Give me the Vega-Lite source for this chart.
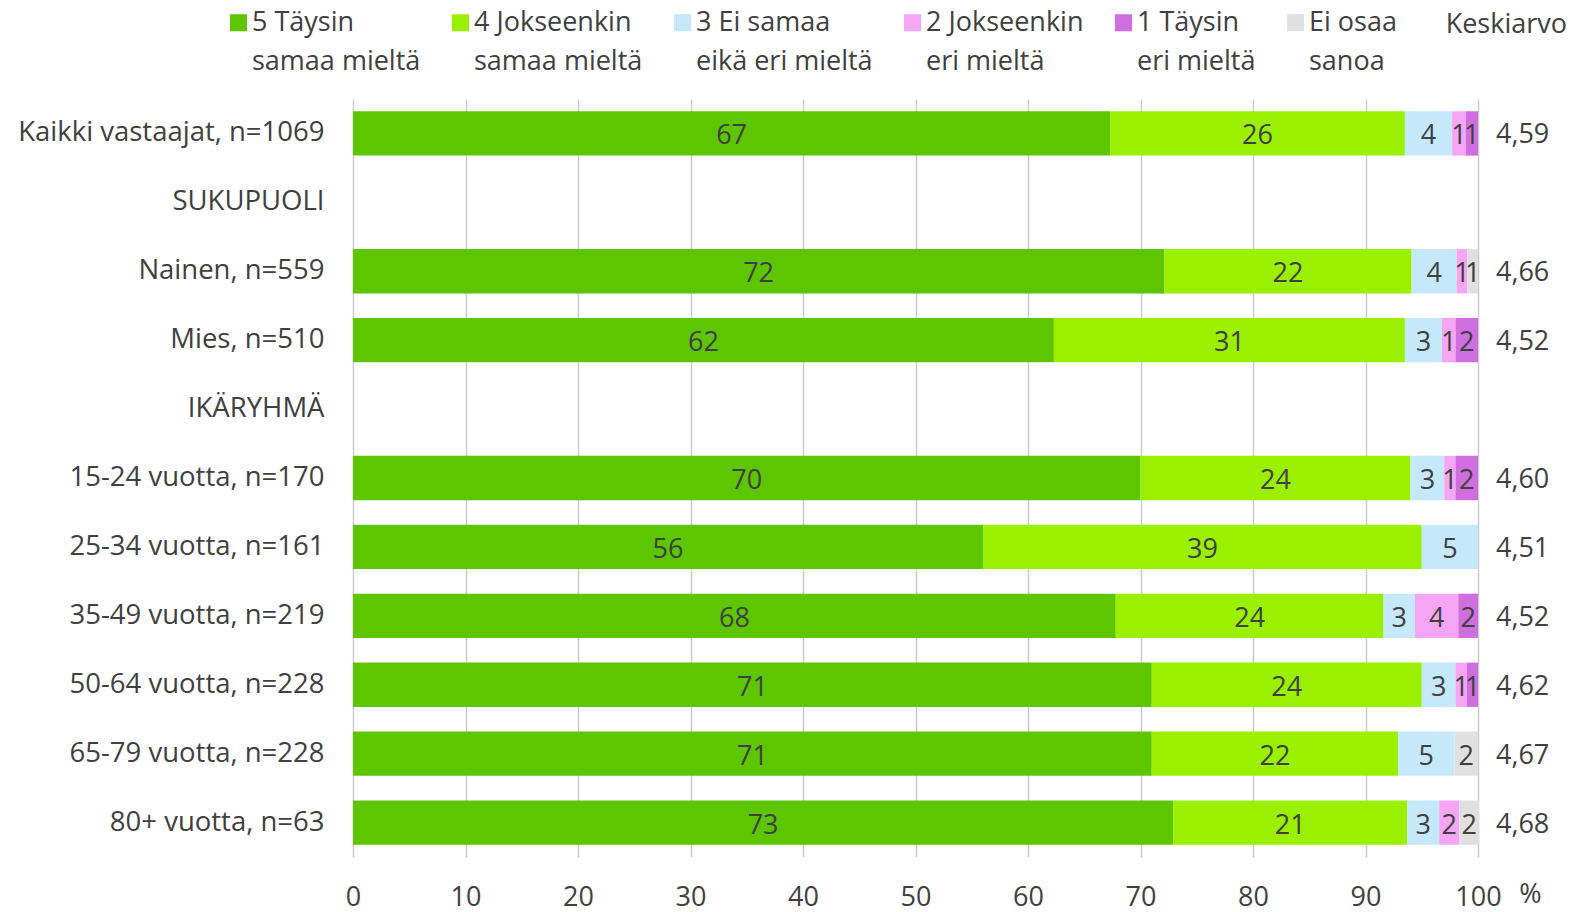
{
  "$schema": "https://vega.github.io/schema/vega-lite/v6.json",
  "width": 1125,
  "height": 758,
  "autosize": {"type": "none"},
  "padding": {"left": 353, "top": 99, "right": 100, "bottom": 55},
  "background": "white",
  "config": {
    "font": "Open Sans",
    "view": {"stroke": null},
    "axis": {"labelFont": "Open Sans", "labelColor": "#404040", "titleFont": "Open Sans", "titleColor": "#404040"},
    "legend": {"labelFont": "Open Sans", "labelColor": "#404040"},
    "style": {"guide-label": {"lineHeight": 39}}
  },
  "title": {
    "text": "Keskiarvo",
    "anchor": "end",
    "frame": "group",
    "orient": "top",
    "dx": 89,
    "offset": -43,
    "fontSize": 27,
    "fontWeight": "normal",
    "color": "#404040",
    "font": "Open Sans",
    "baseline": "middle"
  },
  "datasets": {
    "bars": [
      {"c": "Kaikki vastaajat, n=1069", "r": "5 Täysin|samaa mieltä", "o": 1, "v": 67.3, "l": "67"},
      {"c": "Kaikki vastaajat, n=1069", "r": "4 Jokseenkin|samaa mieltä", "o": 2, "v": 26.2, "l": "26"},
      {"c": "Kaikki vastaajat, n=1069", "r": "3 Ei samaa|eikä eri mieltä", "o": 3, "v": 4.2, "l": "4"},
      {"c": "Kaikki vastaajat, n=1069", "r": "2 Jokseenkin|eri mieltä", "o": 4, "v": 1.2, "l": "1"},
      {"c": "Kaikki vastaajat, n=1069", "r": "1 Täysin|eri mieltä", "o": 5, "v": 1.1, "l": "1"},

      {"c": "Nainen, n=559", "r": "5 Täysin|samaa mieltä", "o": 1, "v": 72.1, "l": "72"},
      {"c": "Nainen, n=559", "r": "4 Jokseenkin|samaa mieltä", "o": 2, "v": 22.0, "l": "22"},
      {"c": "Nainen, n=559", "r": "3 Ei samaa|eikä eri mieltä", "o": 3, "v": 4.0, "l": "4"},
      {"c": "Nainen, n=559", "r": "2 Jokseenkin|eri mieltä", "o": 4, "v": 0.95, "l": "1"},
      {"c": "Nainen, n=559", "r": "Ei osaa|sanoa", "o": 6, "v": 0.95, "l": "1"},

      {"c": "Mies, n=510", "r": "5 Täysin|samaa mieltä", "o": 1, "v": 62.3, "l": "62"},
      {"c": "Mies, n=510", "r": "4 Jokseenkin|samaa mieltä", "o": 2, "v": 31.2, "l": "31"},
      {"c": "Mies, n=510", "r": "3 Ei samaa|eikä eri mieltä", "o": 3, "v": 3.3, "l": "3"},
      {"c": "Mies, n=510", "r": "2 Jokseenkin|eri mieltä", "o": 4, "v": 1.2, "l": "1"},
      {"c": "Mies, n=510", "r": "1 Täysin|eri mieltä", "o": 5, "v": 2.0, "l": "2"},

      {"c": "15-24 vuotta, n=170", "r": "5 Täysin|samaa mieltä", "o": 1, "v": 70.0, "l": "70"},
      {"c": "15-24 vuotta, n=170", "r": "4 Jokseenkin|samaa mieltä", "o": 2, "v": 24.0, "l": "24"},
      {"c": "15-24 vuotta, n=170", "r": "3 Ei samaa|eikä eri mieltä", "o": 3, "v": 3.0, "l": "3"},
      {"c": "15-24 vuotta, n=170", "r": "2 Jokseenkin|eri mieltä", "o": 4, "v": 1.0, "l": "1"},
      {"c": "15-24 vuotta, n=170", "r": "1 Täysin|eri mieltä", "o": 5, "v": 2.0, "l": "2"},

      {"c": "25-34 vuotta, n=161", "r": "5 Täysin|samaa mieltä", "o": 1, "v": 56.0, "l": "56"},
      {"c": "25-34 vuotta, n=161", "r": "4 Jokseenkin|samaa mieltä", "o": 2, "v": 39.0, "l": "39"},
      {"c": "25-34 vuotta, n=161", "r": "3 Ei samaa|eikä eri mieltä", "o": 3, "v": 5.0, "l": "5"},

      {"c": "35-49 vuotta, n=219", "r": "5 Täysin|samaa mieltä", "o": 1, "v": 67.8, "l": "68"},
      {"c": "35-49 vuotta, n=219", "r": "4 Jokseenkin|samaa mieltä", "o": 2, "v": 23.8, "l": "24"},
      {"c": "35-49 vuotta, n=219", "r": "3 Ei samaa|eikä eri mieltä", "o": 3, "v": 2.8, "l": "3"},
      {"c": "35-49 vuotta, n=219", "r": "2 Jokseenkin|eri mieltä", "o": 4, "v": 3.85, "l": "4"},
      {"c": "35-49 vuotta, n=219", "r": "1 Täysin|eri mieltä", "o": 5, "v": 1.75, "l": "2"},

      {"c": "50-64 vuotta, n=228", "r": "5 Täysin|samaa mieltä", "o": 1, "v": 71.0, "l": "71"},
      {"c": "50-64 vuotta, n=228", "r": "4 Jokseenkin|samaa mieltä", "o": 2, "v": 24.0, "l": "24"},
      {"c": "50-64 vuotta, n=228", "r": "3 Ei samaa|eikä eri mieltä", "o": 3, "v": 3.0, "l": "3"},
      {"c": "50-64 vuotta, n=228", "r": "2 Jokseenkin|eri mieltä", "o": 4, "v": 1.0, "l": "1"},
      {"c": "50-64 vuotta, n=228", "r": "1 Täysin|eri mieltä", "o": 5, "v": 1.0, "l": "1"},

      {"c": "65-79 vuotta, n=228", "r": "5 Täysin|samaa mieltä", "o": 1, "v": 71.0, "l": "71"},
      {"c": "65-79 vuotta, n=228", "r": "4 Jokseenkin|samaa mieltä", "o": 2, "v": 21.9, "l": "22"},
      {"c": "65-79 vuotta, n=228", "r": "3 Ei samaa|eikä eri mieltä", "o": 3, "v": 5.0, "l": "5"},
      {"c": "65-79 vuotta, n=228", "r": "Ei osaa|sanoa", "o": 6, "v": 2.1, "l": "2"},

      {"c": "80+ vuotta, n=63", "r": "5 Täysin|samaa mieltä", "o": 1, "v": 72.9, "l": "73"},
      {"c": "80+ vuotta, n=63", "r": "4 Jokseenkin|samaa mieltä", "o": 2, "v": 20.8, "l": "21"},
      {"c": "80+ vuotta, n=63", "r": "3 Ei samaa|eikä eri mieltä", "o": 3, "v": 2.85, "l": "3"},
      {"c": "80+ vuotta, n=63", "r": "2 Jokseenkin|eri mieltä", "o": 4, "v": 1.8, "l": "2"},
      {"c": "80+ vuotta, n=63", "r": "Ei osaa|sanoa", "o": 6, "v": 1.75, "l": "2"}
    ],
    "means": [
      {"c": "Kaikki vastaajat, n=1069", "m": "4,59"},
      {"c": "Nainen, n=559", "m": "4,66"},
      {"c": "Mies, n=510", "m": "4,52"},
      {"c": "15-24 vuotta, n=170", "m": "4,60"},
      {"c": "25-34 vuotta, n=161", "m": "4,51"},
      {"c": "35-49 vuotta, n=219", "m": "4,52"},
      {"c": "50-64 vuotta, n=228", "m": "4,62"},
      {"c": "65-79 vuotta, n=228", "m": "4,67"},
      {"c": "80+ vuotta, n=63", "m": "4,68"}
    ]
  },
  "layer": [
    {
      "data": {"name": "bars"},
      "mark": {"type": "bar", "orient": "horizontal"},
      "encoding": {
        "y": {
          "field": "c",
          "type": "nominal",
          "sort": null,
          "scale": {
            "domain": ["Kaikki vastaajat, n=1069", "SUKUPUOLI", "Nainen, n=559", "Mies, n=510", "IKÄRYHMÄ", "15-24 vuotta, n=170", "25-34 vuotta, n=161", "35-49 vuotta, n=219", "50-64 vuotta, n=228", "65-79 vuotta, n=228", "80+ vuotta, n=63"],
            "paddingInner": 0.357,
            "paddingOuter": 0.1785
          },
          "axis": {
            "title": null,
            "domain": false,
            "ticks": false,
            "labelFontSize": 27.5,
            "labelPadding": 29,
            "labelLimit": 400
          }
        },
        "x": {
          "field": "v",
          "type": "quantitative",
          "stack": "zero",
          "scale": {"domain": [0, 100], "nice": false, "zero": true},
          "axis": {
            "values": [0, 10, 20, 30, 40, 50, 60, 70, 80, 90, 100],
            "grid": true,
            "gridColor": "#CCCCCC",
            "gridWidth": 1.5,
            "domain": false,
            "ticks": false,
            "labelFontSize": 27,
            "labelPadding": 27,
            "labelFlush": false,
            "labelOverlap": false,
            "title": "%",
            "titleFontSize": 27,
            "titleFontWeight": "normal",
            "titleAngle": 0,
            "titleAlign": "center",
            "titleBaseline": "middle",
            "titleX": 1177,
            "titleY": 37
          }
        },
        "color": {
          "field": "r",
          "type": "nominal",
          "scale": {
            "domain": ["5 Täysin|samaa mieltä", "4 Jokseenkin|samaa mieltä", "3 Ei samaa|eikä eri mieltä", "2 Jokseenkin|eri mieltä", "1 Täysin|eri mieltä", "Ei osaa|sanoa"],
            "range": ["#5EC600", "#9AF000", "#C5E8FB", "#F4A6F4", "#CF6FDF", "#E0E0E0"]
          },
          "legend": {
            "title": null,
            "orient": "none",
            "legendX": -128,
            "legendY": -90,
            "direction": "horizontal",
            "columns": 6,
            "columnPadding": 26,
            "symbolType": "square",
            "symbolSize": 289,
            "symbolStrokeWidth": 0,
            "labelFontSize": 27,
            "labelOffset": 0,
            "labelLimit": 400,
            "labelBaseline": "middle",
            "labelExpr": "split(datum.label, '|')"
          }
        },
        "order": {"field": "o", "type": "quantitative"}
      }
    },
    {
      "data": {"name": "bars"},
      "mark": {"type": "text", "fontSize": 27, "color": "#404040", "baseline": "middle", "align": "center", "dy": 3},
      "encoding": {
        "y": {"field": "c", "type": "nominal", "sort": null},
        "x": {"field": "v", "type": "quantitative", "stack": "zero", "bandPosition": 0.5},
        "order": {"field": "o", "type": "quantitative"},
        "text": {"field": "l", "type": "nominal"}
      }
    },
    {
      "data": {"name": "means"},
      "mark": {"type": "text", "fontSize": 27, "color": "#404040", "baseline": "middle", "align": "left", "dy": 2},
      "encoding": {
        "y": {"field": "c", "type": "nominal", "sort": null},
        "x": {"datum": 101.6, "type": "quantitative"},
        "text": {"field": "m", "type": "nominal"}
      }
    }
  ]
}
